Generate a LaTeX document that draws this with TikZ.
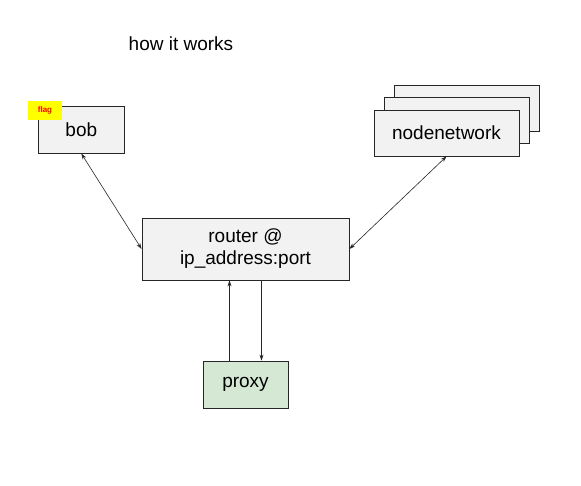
\documentclass[tikz,border=0pt]{standalone}
\usepackage{fontspec}
\setmainfont{Liberation Sans}
\usetikzlibrary{arrows.meta,calc}
\definecolor{boxfill}{HTML}{F2F2F2}
\definecolor{proxyfill}{HTML}{D5E8D4}
\definecolor{flagfill}{HTML}{FFFF00}
\definecolor{flagtext}{HTML}{FF0000}
\begin{document}
\begin{tikzpicture}[x=1pt,y=-1pt,
  box/.style={draw=black!85,line width=0.8pt,fill=boxfill,inner sep=0pt,font=\fontsize{19}{22}\selectfont,align=center},
  link/.style={line width=0.6pt,draw=black!85},
  tip/.style={-{Stealth[length=6pt,width=4pt]}},
  dtip/.style={{Stealth[length=6pt,width=4pt]}-{Stealth[length=6pt,width=4pt]}}]
\useasboundingbox[fill=white] (0,0) rectangle (581,485);
\node[font=\fontsize{19}{22}\selectfont] (title) at (181,44) {how it works};
\node[box,minimum width=86pt,minimum height=47pt] (bob) at (81.3,129.6) {bob};
\node[fill=flagfill,inner sep=0pt,minimum width=34pt,minimum height=19pt,font=\fontsize{8}{10}\selectfont\bfseries,text=flagtext] (flag) at (45,110.5) {flag};
\node[box,minimum width=145pt,minimum height=46pt] (nn3) at (466.5,108) {};
\node[box,minimum width=145pt,minimum height=46pt] (nn2) at (456.5,120.5) {};
\node[box,minimum width=145pt,minimum height=46pt] (nn) at (446.5,133) {nodenetwork};
\node[box,minimum width=207pt,minimum height=62pt] (router) at (245.5,249) {router @\\ip\_address:port};
\node[box,fill=proxyfill,minimum width=85pt,minimum height=47pt] (proxy) at (245.5,384.5) {proxy};
\draw[link,dtip] (bob.south) -- (router.west);
\draw[link,dtip] (nn.south) -- (router.east);
\draw[link,tip] ([xshift=-16pt]proxy.north) -- ([xshift=-16pt]proxy.north |- router.south);
\draw[link,tip] ([xshift=16pt]proxy.north |- router.south) -- ([xshift=16pt]proxy.north);
\end{tikzpicture}
\end{document}
